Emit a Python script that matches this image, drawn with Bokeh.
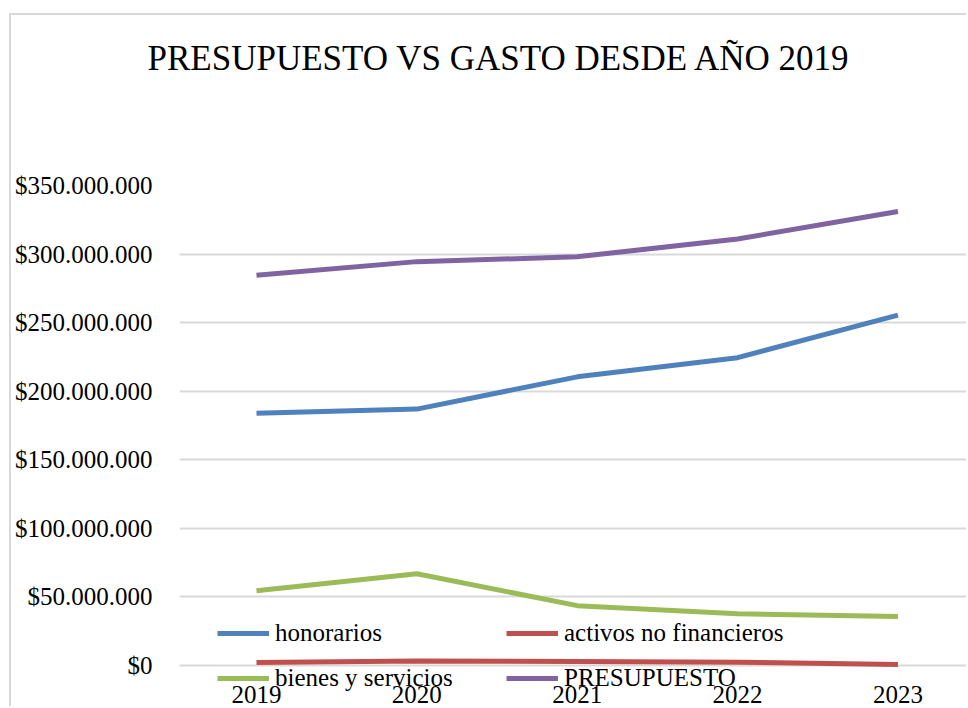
from bokeh.plotting import figure
from bokeh.models import Range1d, FixedTicker, CustomJSTickFormatter, Legend, LegendItem, Title
from bokeh.embed import file_html
from bokeh.resources import INLINE

years = [2019, 2020, 2021, 2022, 2023]
honorarios = [184e6, 187e6, 210.5e6, 224.5e6, 255.5e6]
activos = [2.2e6, 3.3e6, 2.9e6, 2.5e6, 0.8e6]
bienes = [54.5e6, 67e6, 43.7e6, 37.8e6, 35.7e6]
presupuesto = [284.5e6, 294.5e6, 298e6, 311e6, 331e6]
y_ticks = [0, 50e6, 100e6, 150e6, 200e6, 250e6, 300e6, 350e6]
title_text = "PRESUPUESTO VS GASTO DESDE AÑO 2019"

FONT = "Liberation Serif"
Y_MAX = 350e6
Y_MIN = -Y_MAX * 43 / 481   # frame extends below zero so legend/x labels sit inside

p = figure(width=957, height=693, output_backend="svg", toolbar_location=None,
           x_range=Range1d(2018.52, 2023.44), y_range=Range1d(Y_MIN, Y_MAX),
           min_border_left=160, min_border_right=0, min_border_top=169, min_border_bottom=0)
p.margin = (13, 0, 0, 9)
p.styles = {"border-top": "2px solid #d9d9d9", "border-left": "2px solid #d9d9d9"}
p.outline_line_color = None
p.title = None

spacer = Title(text=" ", text_font_size="1px", standoff=84)
p.add_layout(spacer, "above")
t = Title(text=title_text, align="left", offset=-32, standoff=42, text_font=FONT,
          text_font_size="35px", text_font_style="normal", text_color="#000000")
p.add_layout(t, "above")

s1 = p.line(years, honorarios, line_width=5, color="#4f81bd")
s2 = p.line(years, activos, line_width=5, color="#c0504d")
s3 = p.line(years, bienes, line_width=5, color="#9bbb59")
s4 = p.line(years, presupuesto, line_width=5, color="#8064a2")

p.xgrid.visible = False
p.ygrid.grid_line_color = "#d9d9d9"
p.ygrid.grid_line_width = 2
p.yaxis.ticker = FixedTicker(ticks=y_ticks)
p.xaxis.ticker = FixedTicker(ticks=years)
p.xaxis.fixed_location = 0
p.yaxis.formatter = CustomJSTickFormatter(code="""
return '$' + Math.round(tick).toString().replace(/\\B(?=(\\d{3})+(?!\\d))/g, '.');
""")
for ax in (p.xaxis, p.yaxis):
    ax.axis_line_color = None
    ax.major_tick_line_color = None
    ax.minor_tick_line_color = None
    ax.major_label_text_font = FONT
    ax.major_label_text_font_size = "25px"
    ax.major_label_text_color = "#000000"
p.yaxis.major_label_standoff = 21
p.xaxis.major_label_standoff = 14

legend = Legend(items=[
    LegendItem(label="honorarios", renderers=[s1]),
    LegendItem(label="bienes y servicios", renderers=[s3]),
    LegendItem(label="activos no financieros", renderers=[s2]),
    LegendItem(label="PRESUPUESTO", renderers=[s4]),
], ncols=2, location=(38, 16), background_fill_alpha=0, border_line_color=None,
   glyph_width=52, glyph_height=20, label_standoff=6, label_width=214, spacing=17,
   padding=0, margin=0,
   label_text_font=FONT, label_text_font_size="25px", label_text_color="#000000")
p.add_layout(legend, "center")

open("out.html", "w").write(file_html(p, INLINE))
